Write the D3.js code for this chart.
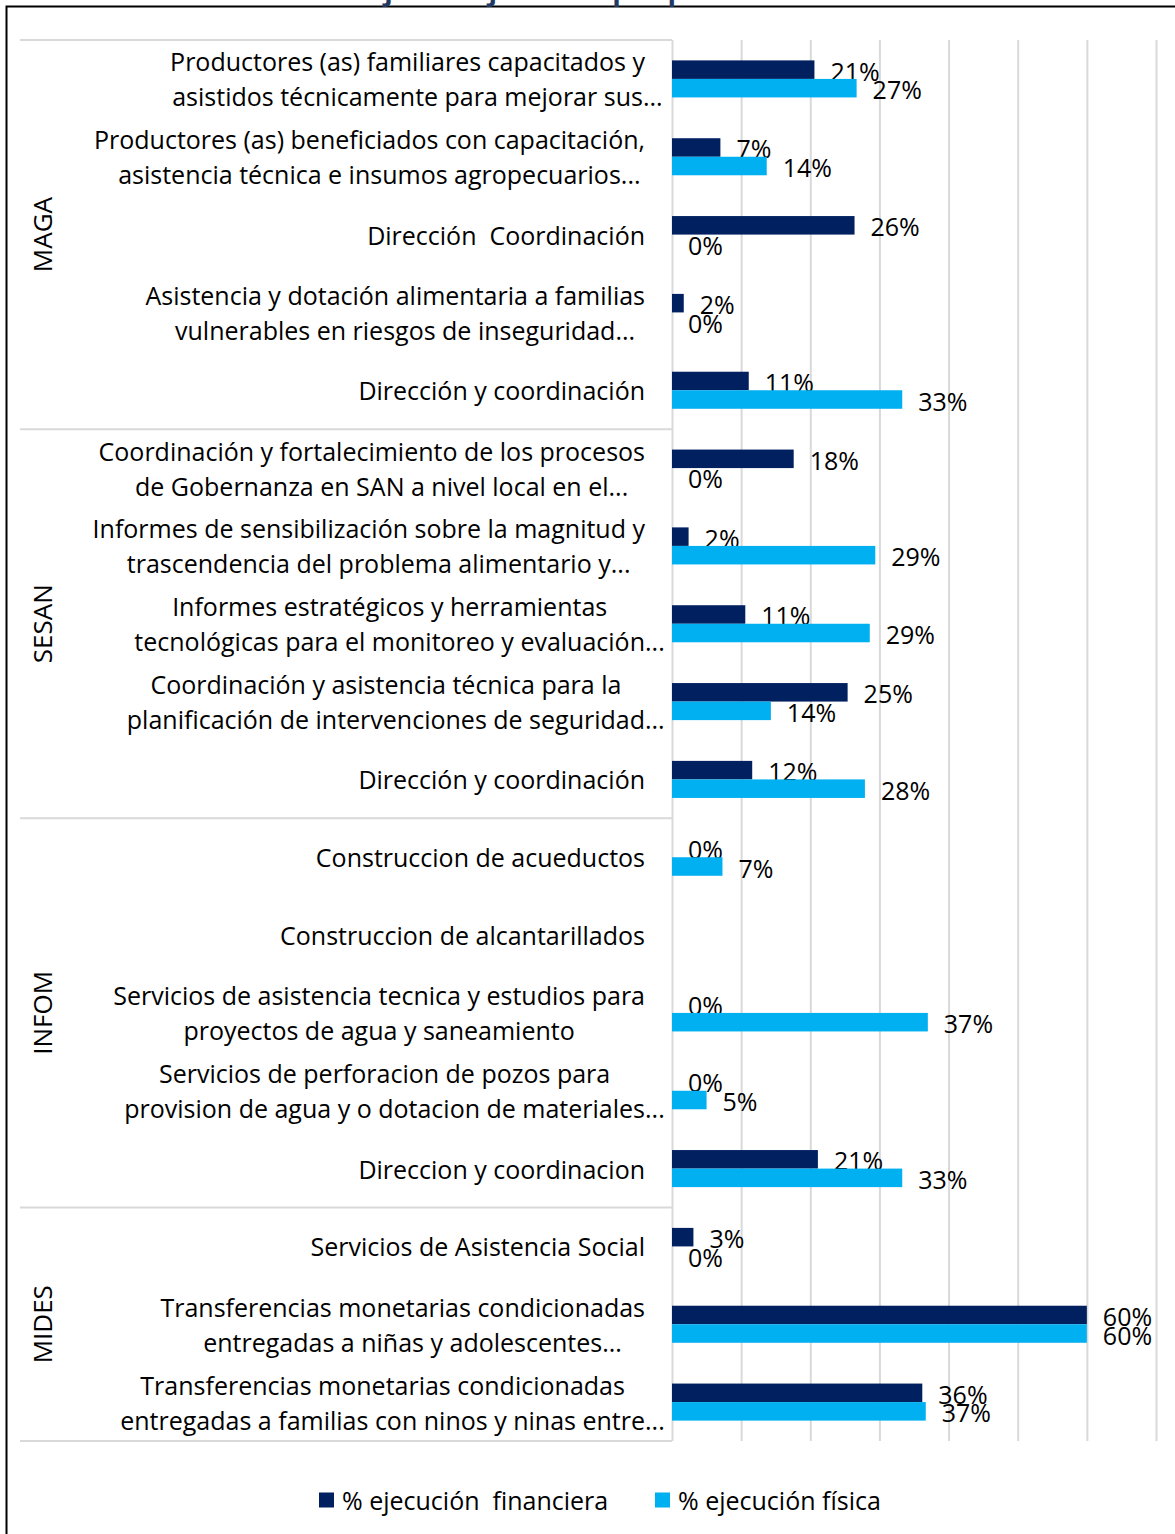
<!DOCTYPE html>
<html>
<head>
<meta charset="utf-8">
<script src="https://cdn.jsdelivr.net/npm/d3@7"></script>
<style>
  body { margin: 0; background: #fff; }
  svg { display: block; font-family: "Open Sans", sans-serif; }
</style>
</head>
<body>
<div id="chart"></div>
<script>
// categories (two-line labels split with \n)
const categories = [
  "Productores (as) familiares capacitados y\nasistidos técnicamente para mejorar sus...",
  "Productores (as) beneficiados con capacitación,\nasistencia técnica e insumos agropecuarios...",
  "Dirección  Coordinación",
  "Asistencia y dotación alimentaria a familias\nvulnerables en riesgos de inseguridad...",
  "Dirección y coordinación",
  "Coordinación y fortalecimiento de los procesos\nde Gobernanza en SAN a nivel local en el...",
  "Informes de sensibilización sobre la magnitud y\ntrascendencia del problema alimentario y...",
  "Informes estratégicos y herramientas\ntecnológicas para el monitoreo y evaluación...",
  "Coordinación y asistencia técnica para la\nplanificación de intervenciones de seguridad...",
  "Dirección y coordinación",
  "Construccion de acueductos",
  "Construccion de alcantarillados",
  "Servicios de asistencia tecnica y estudios para\nproyectos de agua y saneamiento",
  "Servicios de perforacion de pozos para\nprovision de agua y o dotacion de materiales...",
  "Direccion y coordinacion",
  "Servicios de Asistencia Social",
  "Transferencias monetarias condicionadas\nentregadas a niñas y adolescentes...",
  "Transferencias monetarias condicionadas\nentregadas a familias con ninos y ninas entre..."
];
const groupNames = ["MAGA", "SESAN", "INFOM", "MIDES"];
const groupCounts = [5, 5, 5, 3];

const seriesNames = ["% ejecución  financiera", "% ejecución física"];
const financiera = [20.6, 7, 26.4, 1.7, 11.1, 17.6, 2.4, 10.6, 25.4, 11.6, 0, null, 0, 0, 21.1, 3.1, 60, 36.2];
const fisica     = [26.7, 13.7, 0, 0, 33.3, 0, 29.4, 28.6, 14.3, 27.9, 7.3, null, 37, 5, 33.3, 0, 60, 36.7];
const xTicks = [0, 10, 20, 30, 40, 50, 60, 70];

const title = "Gráfica 5. Porcentajes de ejecución por productos asociados a la SAN";

const width = 1175, height = 1534;
const plot = {left: 672, right: 1156, top: 40, bottom: 1441};
const colors = ["#002060", "#00B0F0"];
const gridColor = "#d9d9d9";
const fontSize = 25;

const svg = d3.select("#chart").append("svg")
  .attr("width", width)
  .attr("height", height);

// outer frame (runs off the page on right and bottom)
svg.append("rect")
  .attr("x", 6.5).attr("y", 6.5)
  .attr("width", 1300).attr("height", 1600)
  .attr("fill", "none")
  .attr("stroke", "#000")
  .attr("stroke-width", 2);

// title, mostly cut off at the top
svg.append("text")
  .attr("x", 597).attr("y", 0)
  .attr("text-anchor", "middle")
  .attr("font-size", 28)
  .attr("font-weight", "bold")
  .attr("fill", "#1F3864")
  .text(title);

const x = d3.scaleLinear().domain([0, 70]).range([plot.left, plot.right]);
const y = d3.scaleBand().domain(d3.range(categories.length)).range([plot.top, plot.bottom]);
const ySub = d3.scaleBand().domain([0, 1])
  .range([y.bandwidth() * 0.262, y.bandwidth() * 0.738]);

// vertical gridlines
svg.append("g")
  .attr("transform", `translate(0,${plot.bottom})`)
  .call(d3.axisBottom(x).tickValues(xTicks).tickSize(-(plot.bottom - plot.top)).tickFormat(""))
  .call(g => g.select(".domain").remove())
  .call(g => g.selectAll(".tick line").attr("stroke", gridColor).attr("stroke-width", 2));

// group separators in the label area
let starts = [0];
groupCounts.forEach((c, i) => starts.push(starts[i] + c));
svg.selectAll(".sep")
  .data(starts)
  .enter()
  .append("line")
    .attr("x1", 20).attr("x2", plot.left)
    .attr("y1", d => d < categories.length ? y(d) : plot.bottom)
    .attr("y2", d => d < categories.length ? y(d) : plot.bottom)
    .attr("stroke", gridColor)
    .attr("stroke-width", 2);

// group labels (rotated)
svg.selectAll(".grp")
  .data(groupNames)
  .enter()
  .append("text")
    .attr("transform", (d, i) => {
      const y0 = y(starts[i]);
      const y1 = starts[i + 1] < categories.length ? y(starts[i + 1]) : plot.bottom;
      return `translate(42,${(y0 + y1) / 2}) rotate(-90)`;
    })
    .attr("text-anchor", "middle")
    .attr("dominant-baseline", "central")
    .attr("font-size", 26)
    .attr("fill", "#000")
    .text(d => d);

// category labels: lines centred on each other, block right-aligned
const labelRight = 645, lineGap = 35;
const labels = svg.append("g").attr("font-size", fontSize).attr("fill", "#000");
categories.forEach((c, i) => {
  const lines = c.split("\n");
  const cy = y(i) + y.bandwidth() / 2;
  const nodes = lines.map((ln, k) => labels.append("text")
    .style("white-space", "pre")
    .attr("dominant-baseline", "central")
    .attr("y", cy + (k - (lines.length - 1) / 2) * lineGap)
    .text(ln));
  const mainW = lines.map((ln, k) => {
    if (!ln.endsWith("...")) return nodes[k].node().getComputedTextLength();
    return nodes[k].node().getSubStringLength(0, ln.length - 3);
  });
  const W = d3.max(mainW);
  const centre = labelRight - W / 2;
  nodes.forEach((n, k) => n.attr("x", centre - mainW[k] / 2));
});

// bars
const series = [financiera, fisica];
series.forEach((vals, s) => {
  const rows = vals.map((v, i) => ({i, v})).filter(d => d.v !== null);
  svg.selectAll(".bar" + s)
    .data(rows)
    .enter()
    .append("rect")
      .attr("x", x(0))
      .attr("y", d => y(d.i) + ySub(s))
      .attr("width", d => x(d.v) - x(0))
      .attr("height", ySub.bandwidth())
      .attr("fill", colors[s]);
  svg.selectAll(".lbl" + s)
    .data(rows)
    .enter()
    .append("text")
      .attr("x", d => x(d.v) + 16)
      .attr("y", d => y(d.i) + ySub(s) + ySub.bandwidth() / 2 + 1)
      .attr("dominant-baseline", "central")
      .attr("font-size", fontSize)
      .attr("fill", "#000")
      .text(d => d3.format(".0%")(d.v / 100));
});

// legend
const legendX = [319, 655];
const legend = svg.selectAll(".leg")
  .data(seriesNames)
  .enter()
  .append("g")
    .attr("transform", (d, i) => `translate(${legendX[i]},1500)`);
legend.append("rect")
  .attr("x", 0).attr("y", -7.5)
  .attr("width", 15).attr("height", 15)
  .attr("fill", (d, i) => colors[i]);
legend.append("text")
  .attr("x", 23)
  .attr("dominant-baseline", "central")
  .attr("font-size", fontSize)
  .style("white-space", "pre")
  .text(d => d);
</script>
</body>
</html>
